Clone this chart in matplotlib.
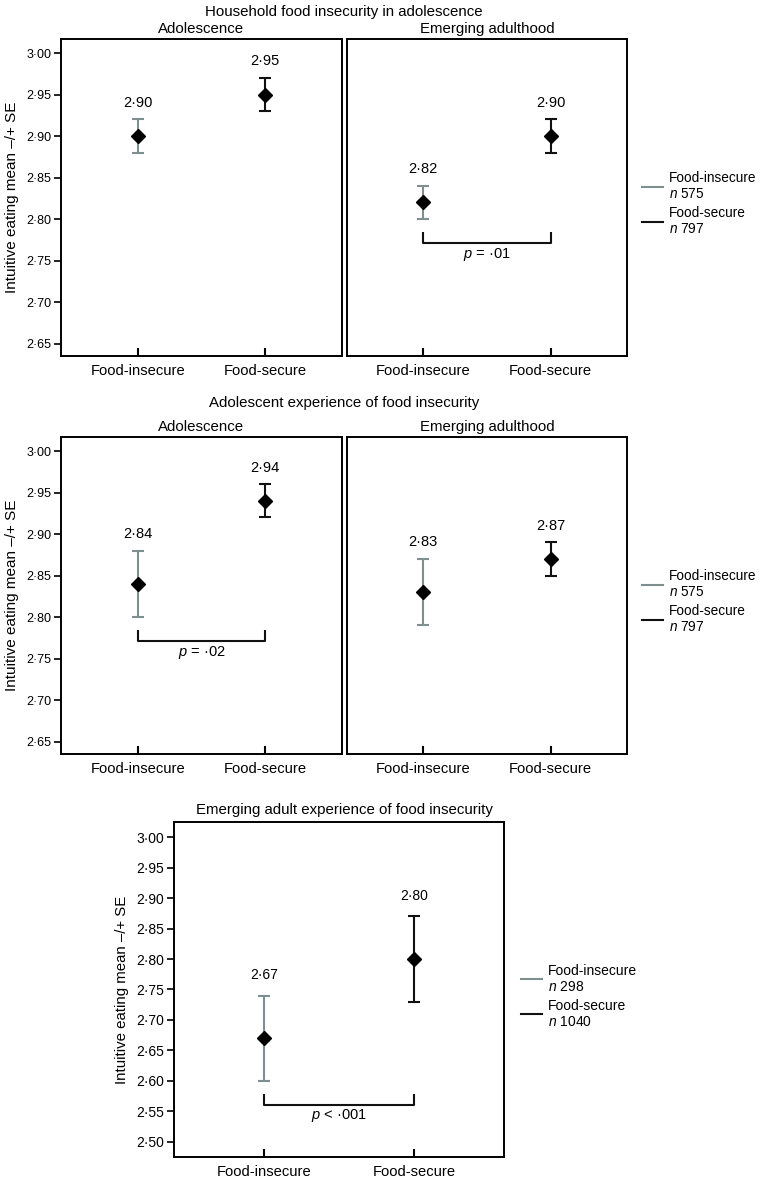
import matplotlib

matplotlib.use("Agg")
import matplotlib.pyplot as plt
from matplotlib.lines import Line2D
from matplotlib.ticker import FuncFormatter, MultipleLocator

plt.rcParams["font.family"] = ["Liberation Sans", "DejaVu Sans"]
plt.rcParams["mathtext.fontset"] = "custom"
plt.rcParams["mathtext.it"] = "Liberation Sans:italic"
plt.rcParams["mathtext.rm"] = "Liberation Sans"

# ---- data ----
GROUPS = ["Food-insecure", "Food-secure"]
ROW_TITLES = ["Household food insecurity in adolescence",
              "Adolescent experience of food insecurity",
              "Emerging adult experience of food insecurity"]
PANEL_TITLES = ["Adolescence", "Emerging adulthood",
                "Adolescence", "Emerging adulthood", None]
MEANS = [[2.90, 2.95], [2.82, 2.90], [2.84, 2.94], [2.83, 2.87], [2.67, 2.80]]
SE = [[0.02, 0.02], [0.02, 0.02], [0.04, 0.02], [0.04, 0.02], [0.07, 0.07]]
P_TEXT = [None, "= ·01", "= ·02", None, "< ·001"]
N_INSECURE = [575, 575, 298]
N_SECURE = [797, 797, 1040]
YLABEL = "Intuitive eating mean –/+ SE"

COLORS = ["#7f8f8f", "#111111"]
W, H = 760, 1185


def dot(v, _=None):
    return f"{v:.2f}".replace(".", "·")


def frac(x0, y0, x1, y1):
    # pixel box -> figure fraction [left, bottom, width, height]
    return [x0 / W, 1 - y1 / H, (x1 - x0) / W, (y1 - y0) / H]


def panel(fig, box, k, ylim, label_off, ylabel_x=None, legend_row=None,
          tick_fs=9, value_fs=10.5, ylabel_fs=11, legend_fs=9.8):
    ax = fig.add_axes(frac(*box))
    means, se = MEANS[k], SE[k]
    for i in range(2):
        ax.errorbar(i, means[i], yerr=se[i], fmt="D", ms=7, mfc="black", mec="black",
                    ecolor=COLORS[i], elinewidth=1.5, capsize=4.5, capthick=1.5, zorder=3)
        ax.annotate(dot(means[i]), (i, means[i] + se[i]), xytext=(0, label_off),
                    textcoords="offset points", ha="center", va="center", fontsize=value_fs)
    ax.set_xlim(-0.6, 1.6)
    ax.set_ylim(*ylim)
    ax.set_xticks([0, 1])
    ax.set_xticklabels(GROUPS, fontsize=10.6)
    ax.yaxis.set_major_locator(MultipleLocator(0.05))
    ax.yaxis.set_major_formatter(FuncFormatter(dot))
    ax.tick_params(axis="y", direction="out", length=5, width=1.2, labelsize=tick_fs, pad=2)
    ax.tick_params(axis="x", direction="in", length=6, width=1.5, pad=6)
    for s in ax.spines.values():
        s.set_linewidth(1.4)
    if PANEL_TITLES[k]:
        ax.set_title(PANEL_TITLES[k], fontsize=10.8, pad=4)
    if ylabel_x is None:
        ax.set_yticks([])
    else:
        ax.set_ylabel(YLABEL, fontsize=ylabel_fs)
        ax.yaxis.set_label_coords(ylabel_x, 0.5)

    # significance bracket, offsets given in pixels below the lowest error bar
    if P_TEXT[k]:
        per_px = (ylim[1] - ylim[0]) / ((box[3] - box[1]))
        base = min(m - s for m, s in zip(means, se))
        top, bot, txt = base - 13 * per_px, base - 24 * per_px, base - 35 * per_px
        ax.plot([0, 0, 1, 1], [top, bot, bot, top], color="#111111", lw=1.5,
                solid_joinstyle="round", solid_capstyle="butt")
        ax.text(0.5, txt, f"$p$ {P_TEXT[k]}", ha="center", va="center", fontsize=10.5)

    if legend_row is not None:
        handles = [Line2D([], [], color=c, lw=1.5) for c in COLORS]
        labels = [f"{GROUPS[0]}\n$n$ {N_INSECURE[legend_row]}",
                  f"{GROUPS[1]}\n$n$ {N_SECURE[legend_row]}"]
        ax.legend(handles, labels, loc="center left", bbox_to_anchor=(1.035, 0.48),
                  frameon=False, fontsize=legend_fs, handlelength=1.5, handletextpad=0.45,
                  labelspacing=0.35, borderaxespad=0)
    return ax


fig = plt.figure(figsize=(W / 100, H / 100), dpi=100)

top_lim = (2.635, 3.017)
panel(fig, (61, 39, 342, 356), 0, top_lim, 12, ylabel_x=-0.15)
panel(fig, (347, 39, 627, 356), 1, top_lim, 12, legend_row=0)
panel(fig, (61, 437, 342, 754), 2, top_lim, 12, ylabel_x=-0.15)
panel(fig, (347, 437, 627, 754), 3, top_lim, 12, legend_row=1)
panel(fig, (174, 822, 504, 1157), 4, (2.475, 3.025), 15, ylabel_x=-0.135, legend_row=2,
      tick_fs=10, value_fs=10, ylabel_fs=10.8, legend_fs=10)

for title, y in zip(ROW_TITLES, (12, 403, 810)):
    fig.text(344 / W, 1 - y / H, title, ha="center", va="center", fontsize=10.8)

fig.savefig("out.png", dpi=100)
